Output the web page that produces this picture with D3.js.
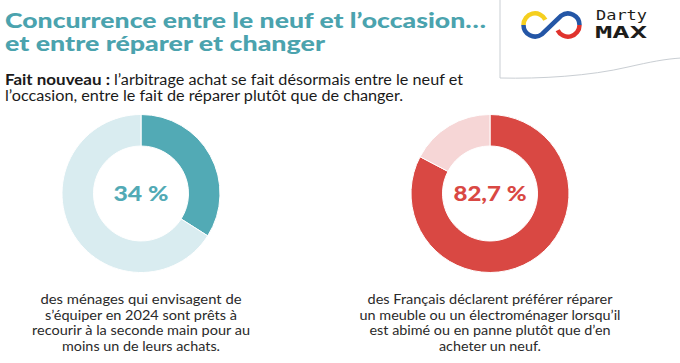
<!DOCTYPE html>
<html>
<head>
<meta charset="utf-8">
<script src="https://cdn.jsdelivr.net/npm/d3@7"></script>
<style>
  body { margin: 0; background: #fff; }
  svg { display: block; }
</style>
</head>
<body>
<div id="chart"></div>
<script>
// values
var labels = ['34 %', '82,7 %']
var shares = [34, 82.7]
var captions = [
  ['des ménages qui envisagent de', 's\u2019équiper en 2024 sont prêts à', 'recourir à la seconde main pour au', 'moins un de leurs achats.'],
  ['des Français déclarent préférer réparer', 'un meuble ou un électroménager lorsqu\u2019il', 'est abimé ou en panne plutôt que d\u2019en', 'acheter un neuf.']
]
// line widths as measured on the reference
var captionWidths = [[201, 192, 218, 158], [245, 261, 241, 102]]
var titleLines = ['Concurrence entre le neuf et l\u2019occasion\u2026', 'et entre réparer et changer']
var titleWidths = [481, 320]

var width = 680
var height = 363
var font = 'Lato, "Open Sans", sans-serif'

var teal = '#52aab5', tealLight = '#d9ecf0'
var red = '#d94843', redLight = '#f6d6d6'
var palettes = [[teal, tealLight], [red, redLight]]

var svg = d3.select('#chart')
  .append('svg')
  .attr('width', width)
  .attr('height', height)

// title
svg.append('g')
  .selectAll('text')
  .data(titleLines)
  .enter()
  .append('text')
  .attr('x', 5)
  .attr('y', (d, i) => 27.5 + i * 23)
  .attr('font-family', font)
  .attr('font-weight', 900)
  .attr('font-size', 20.5)
  .attr('fill', '#4ba3ae')
  .attr('textLength', (d, i) => titleWidths[i])
  .attr('lengthAdjust', 'spacingAndGlyphs')
  .text(d => d)

// intro text
svg.append('text')
  .attr('x', 5)
  .attr('y', 85)
  .attr('font-family', font)
  .attr('font-weight', 700)
  .attr('font-size', 14.5)
  .attr('fill', '#1a1a1a')
  .attr('textLength', 105)
  .attr('lengthAdjust', 'spacingAndGlyphs')
  .text('Fait nouveau :')
svg.append('text')
  .attr('x', 114)
  .attr('y', 85)
  .attr('font-family', font)
  .attr('font-size', 14.5)
  .attr('fill', '#1a1a1a')
  .attr('textLength', 349)
  .attr('lengthAdjust', 'spacingAndGlyphs')
  .text('l\u2019arbitrage achat se fait désormais entre le neuf et')
svg.append('text')
  .attr('x', 5)
  .attr('y', 100.5)
  .attr('font-family', font)
  .attr('font-size', 14.5)
  .attr('fill', '#1a1a1a')
  .attr('textLength', 398)
  .attr('lengthAdjust', 'spacingAndGlyphs')
  .text('l\u2019occasion, entre le fait de réparer plutôt que de changer.')

// donuts
var xPos = d3.scalePoint().domain([0, 1]).range([141, 490])
var pie = d3.pie().sort(null).value(d => d)
var arc = d3.arc().innerRadius(47.5).outerRadius(79)

shares.forEach(function(s, i) {
  var g = svg.append('g')
    .attr('transform', 'translate(' + xPos(i) + ',193.5)')

  g.selectAll('path')
    .data(pie([s, 100 - s]))
    .enter()
    .append('path')
    .attr('d', arc)
    .attr('fill', (d, j) => palettes[i][j])
    .attr('stroke', '#fff')
    .attr('stroke-width', 1)

  g.append('text')
    .attr('y', 7.5)
    .attr('text-anchor', 'middle')
    .attr('font-family', font)
    .attr('font-weight', 900)
    .attr('font-size', 20)
    .attr('fill', palettes[i][0])
    .attr('textLength', i === 0 ? 55 : 73)
    .attr('lengthAdjust', 'spacingAndGlyphs')
    .text(labels[i])

  svg.append('g')
    .selectAll('text')
    .data(captions[i])
    .enter()
    .append('text')
    .attr('x', xPos(i))
    .attr('y', (d, j) => 304 + j * 15.6)
    .attr('text-anchor', 'middle')
    .attr('font-family', font)
    .attr('font-size', 13)
    .attr('fill', '#2a2a2a')
    .attr('textLength', (d, j) => captionWidths[i][j])
    .attr('lengthAdjust', 'spacingAndGlyphs')
    .text(d => d)
})

// logo box
var logo = svg.append('g')
logo.append('path')
  .attr('d', 'M500,-1 L500,78 C540,79 590,76 628,67 C650,62 665,59 681,58 L681,-1')
  .attr('fill', '#fff')
  .attr('stroke', '#c9ced3')
  .attr('stroke-width', 1)

// infinity mark
var lx = 535, rx = 568, ly = 25, r = 11.5
logo.append('path')
  .attr('d', 'M' + (lx - r) + ',' + ly + ' A' + r + ',' + r + ' 0 0 1 ' + (lx + r * 0.9) + ',' + (ly - r * 0.45))
  .attr('fill', 'none').attr('stroke', '#f5cf1f').attr('stroke-width', 4.5)
logo.append('path')
  .attr('d', 'M' + (lx - r) + ',' + ly + ' A' + r + ',' + r + ' 0 0 0 ' + (lx + r * 0.6) + ',' + (ly + r * 0.8)
    + ' L' + (rx - r * 0.6) + ',' + (ly - r * 0.8)
    + ' A' + r + ',' + r + ' 0 0 1 ' + (rx + r) + ',' + ly)
  .attr('fill', 'none').attr('stroke', '#2456a6').attr('stroke-width', 4.5)
logo.append('path')
  .attr('d', 'M' + (rx + r) + ',' + ly + ' A' + r + ',' + r + ' 0 0 1 ' + (rx - r * 0.9) + ',' + (ly + r * 0.45))
  .attr('fill', 'none').attr('stroke', '#e0332d').attr('stroke-width', 4.5)

logo.append('text')
  .attr('x', 596).attr('y', 20)
  .attr('font-family', '"DejaVu Sans Mono", monospace')
  .attr('font-size', 14.5)
  .attr('fill', '#1d1d1b')
  .attr('textLength', 51)
  .attr('lengthAdjust', 'spacingAndGlyphs')
  .text('Darty')
logo.append('text')
  .attr('x', 595).attr('y', 38)
  .attr('font-family', '"DejaVu Sans Mono", monospace')
  .attr('font-weight', 'bold')
  .attr('font-size', 16)
  .attr('fill', '#1d1d1b')
  .attr('textLength', 52)
  .attr('lengthAdjust', 'spacingAndGlyphs')
  .text('MAX')
</script>
</body>
</html>
